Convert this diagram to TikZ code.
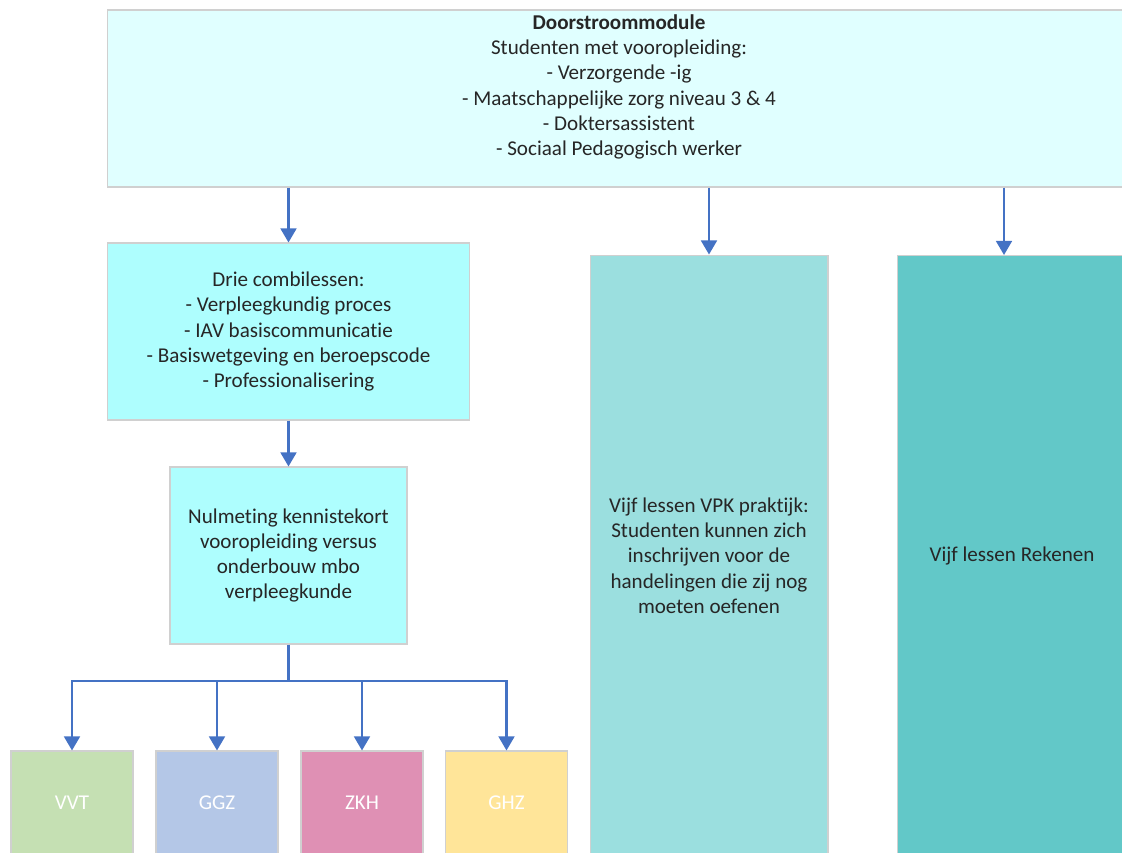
\documentclass[tikz,border=0pt]{standalone}
\usepackage{fontspec}
\setmainfont{Carlito}[Ligatures={NoCommon}]
\usetikzlibrary{arrows.meta}

\definecolor{randgrijs}{HTML}{D0D0D0}
\definecolor{pijlblauw}{HTML}{4472C4}
\definecolor{doorfill}{HTML}{E0FFFF}
\definecolor{combifill}{HTML}{AEFEFE}
\definecolor{vpkfill}{HTML}{9BDFDF}
\definecolor{rekenfill}{HTML}{62C8C8}
\definecolor{vvtfill}{HTML}{C5E0B3}
\definecolor{ggzfill}{HTML}{B4C7E7}
\definecolor{zkhfill}{HTML}{DF90B4}
\definecolor{ghzfill}{HTML}{FFE599}

\tikzset{
  blok/.style={draw=randgrijs, line width=0.6pt, align=center, inner sep=0pt,
    text=black!85, font=\fontsize{12}{14.4}\selectfont},
  tekst/.style={align=center, inner sep=0pt, text=black!85,
    font=\fontsize{12}{14.4}\selectfont},
  sector/.style={blok, minimum width=2.44cm, minimum height=2.08cm, text=white},
  pijl/.style={draw=pijlblauw, line width=1.3pt,
    -{Triangle[width=9pt,length=8pt]}},
  lijn/.style={draw=pijlblauw, line width=1.3pt}
}

\begin{document}
\begin{tikzpicture}[x=0.02cm, y=-0.02cm]
      \useasboundingbox (0,0) rectangle (1122,852);
      \clip (0,0) rectangle (1122,852);

      % bovenste blok
      \node[blok, fill=doorfill, minimum width=20.44cm, minimum height=3.54cm] (door) at (618.5,98.5){};
      \node[tekst] (doortekst) at (619,87){\textbf{Doorstroommodule}\\
        Studenten met vooropleiding:\\
        - Verzorgende -ig\\
        - Maatschappelijke zorg niveau 3 \& 4\\
        - Doktersassistent\\
        - Sociaal Pedagogisch werker};

      % linker kolom
      \node[blok, fill=combifill, minimum width=7.26cm, minimum height=3.54cm] (combi) at (288.5,331.5){Drie combilessen:\\
        - Verpleegkundig proces\\
        - IAV basiscommunicatie\\
        - Basiswetgeving en beroepscode\\
        - Professionalisering};
      \node[blok, fill=combifill, minimum width=4.74cm, minimum height=3.54cm] (nul) at (288.5,555.5){Nulmeting kennistekort\\
        vooropleiding versus\\
        onderbouw mbo\\
        verpleegkunde};

      \node[sector, fill=vvtfill] (vvt) at (72,803){VVT};
      \node[sector, fill=ggzfill] (ggz) at (217,803){GGZ};
      \node[sector, fill=zkhfill] (zkh) at (362,803){ZKH};
      \node[sector, fill=ghzfill] (ghz) at (506.5,803){GHZ};

      % rechter kolommen
      \node[blok, fill=vpkfill, minimum width=4.76cm, minimum height=12.02cm] (vpk) at (709,555.5){Vijf lessen VPK praktijk:\\
        Studenten kunnen zich\\
        inschrijven voor de\\
        handelingen die zij nog\\
        moeten oefenen};
      \node[blok, fill=rekenfill, minimum width=4.6cm, minimum height=12.02cm] (reken) at (1012,555.5){Vijf lessen Rekenen};

      % pijlen
      \coordinate (rekenin) at (1004,255);
      \coordinate (splits) at (288.5,681);
      \draw[pijl] (door.south -| combi.north) -- (combi.north);
      \draw[pijl] (door.south -| vpk.north) -- (vpk.north);
      \draw[pijl] (door.south -| rekenin) -- (rekenin);
      \draw[pijl] (combi.south) -- (nul.north);
      \draw[lijn] (nul.south) -- (splits);
      \draw[pijl] (splits) -| (vvt.north);
      \draw[pijl] (splits) -| (ggz.north);
      \draw[pijl] (splits) -| (zkh.north);
      \draw[pijl] (splits) -| (ghz.north);
    \end{tikzpicture}
\end{document}
